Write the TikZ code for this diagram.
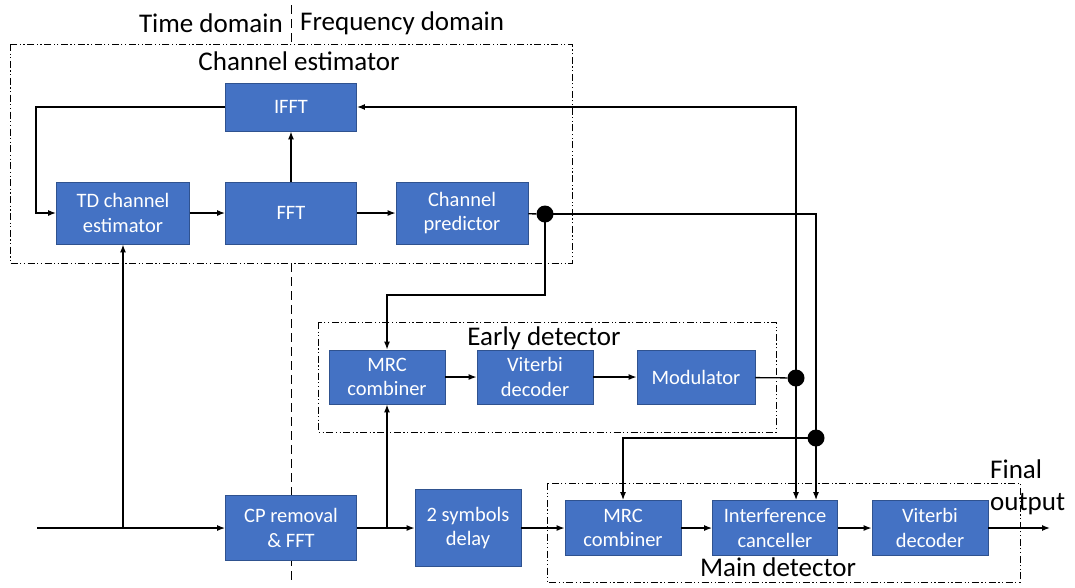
\documentclass[tikz,border=0pt]{standalone}
\usepackage{fontspec}
\setmainfont{Carlito}
\usepackage{xcolor}
\usetikzlibrary{arrows.meta,positioning,calc}

\definecolor{boxblue}{HTML}{4472C4}
\definecolor{boxedge}{HTML}{2F528F}

\begin{document}
\begin{tikzpicture}[x=1pt, y=-1pt,
    block/.style={draw=boxedge, line width=0.8pt, fill=boxblue, text=white,
        font=\fontsize{20.5}{24.5}\selectfont, align=center, inner sep=0pt},
    frame/.style={line width=0.9pt, dash pattern=on 7pt off 2.5pt on 1.2pt off 2.5pt on 1.2pt off 2.5pt},
    title/.style={font=\fontsize{27}{32}\selectfont, inner sep=0pt},
    link/.style={line width=1.3pt, -{Latex[length=8pt,width=6pt]}},
    wire/.style={line width=1.3pt},
    dot/.style={circle, fill=black, inner sep=0pt, minimum size=17pt}]

    \useasboundingbox (0,0) rectangle (1075,587);

    % time / frequency border
    \draw[line width=1pt, dash pattern=on 9pt off 5pt] (291,5) -- (291,44);
    \draw[line width=1pt, dash pattern=on 9pt off 5pt] (291,263) -- (291,582);
    \node[title, anchor=east] (tdom) at (283,23) {Time domain};
    \node[title, anchor=west] (fdom) at (300,23) {Frequency domain};

    % frames
    \draw[frame] (10,44) rectangle (572,263);
    \node[title] (cetitle) at (299,61) {Channel estimator};
    \draw[frame] (318,322) rectangle (776,432);
    \node[title] (edtitle) at (544,338) {Early detector};
    \draw[frame] (547,483) rectangle (1020,582);
    \node[title] (mdtitle) at (778,567) {Main detector};

    % channel estimator
    \node[block, minimum width=131pt, minimum height=48pt] (ifft) at (291,107) {IFFT};
    \node[block, minimum width=133pt, minimum height=62pt] (tdest) at (123,213) {TD channel\\estimator};
    \node[block, minimum width=131pt, minimum height=62pt] (fft) at (291,213) {FFT};
    \node[block, minimum width=132pt, minimum height=62pt] (pred) at (462,213) {Channel\\predictor};

    % early detector
    \node[block, minimum width=116pt, minimum height=54pt] (mrcA) at (387,377) {MRC\\combiner};
    \node[block, minimum width=116pt, minimum height=54pt] (vitA) at (535,377) {Viterbi\\decoder};
    \node[block, minimum width=118pt, minimum height=54pt] (mod) at (696,377) {Modulator};

    % main path
    \node[block, minimum width=131pt, minimum height=65pt] (cp) at (291,528) {CP removal\\\& FFT};
    \node[block, minimum width=106pt, minimum height=77pt] (delay) at (468,528) {2 symbols\\delay};
    \node[block, minimum width=116pt, minimum height=55pt] (mrcB) at (623,528) {MRC\\combiner};
    \node[block, minimum width=125pt, minimum height=55pt] (ic) at (775,528) {Interference\\canceller};
    \node[block, minimum width=116pt, minimum height=55pt] (vitB) at (930,528) {Viterbi\\decoder};

    \coordinate (in) at (37,528);
    \coordinate (out) at (1050,528);
    \node[title, anchor=north west, align=left] (final) at (990,460) {Final\\output};

    % junction dots
    \node[dot] (d1) at (545,214) {};
    \node[dot] (d2) at (796,378) {};
    \node[dot] (d3) at (816,438) {};

    % connectors
    \draw[link] (in) -- (cp);
    \draw[link] (in -| tdest.south) -- (tdest.south);
    \draw[link] (ifft.west) -| ([xshift=-20pt]tdest.west) -- (tdest.west);
    \draw[link] (tdest) -- (fft);
    \draw[link] (fft) -- (pred);
    \draw[link] (fft) -- (ifft);
    \draw[wire] (pred) -- (d1);
    \draw[link] (d1.center) -- ++(0,81) -| (mrcA.north);
    \draw[link] (d1.center) -| (ic.north -| d3);
    \draw[wire] (mod) -- (d2);
    \draw[link] (d2.center) |- (ifft.east);
    \draw[link] (d2.center) -- (ic.north -| d2);
    \draw[link] (d3.center) -| (mrcB.north);
    \draw[link] (cp) -- (delay);
    \draw[link] (cp.east -| mrcA) -- (mrcA.south);
    \draw[link] (mrcA) -- (vitA);
    \draw[link] (vitA) -- (mod);
    \draw[link] (delay) -- (mrcB);
    \draw[link] (mrcB) -- (ic);
    \draw[link] (ic) -- (vitB);
    \draw[link] (vitB) -- (out);
\end{tikzpicture}
\end{document}
